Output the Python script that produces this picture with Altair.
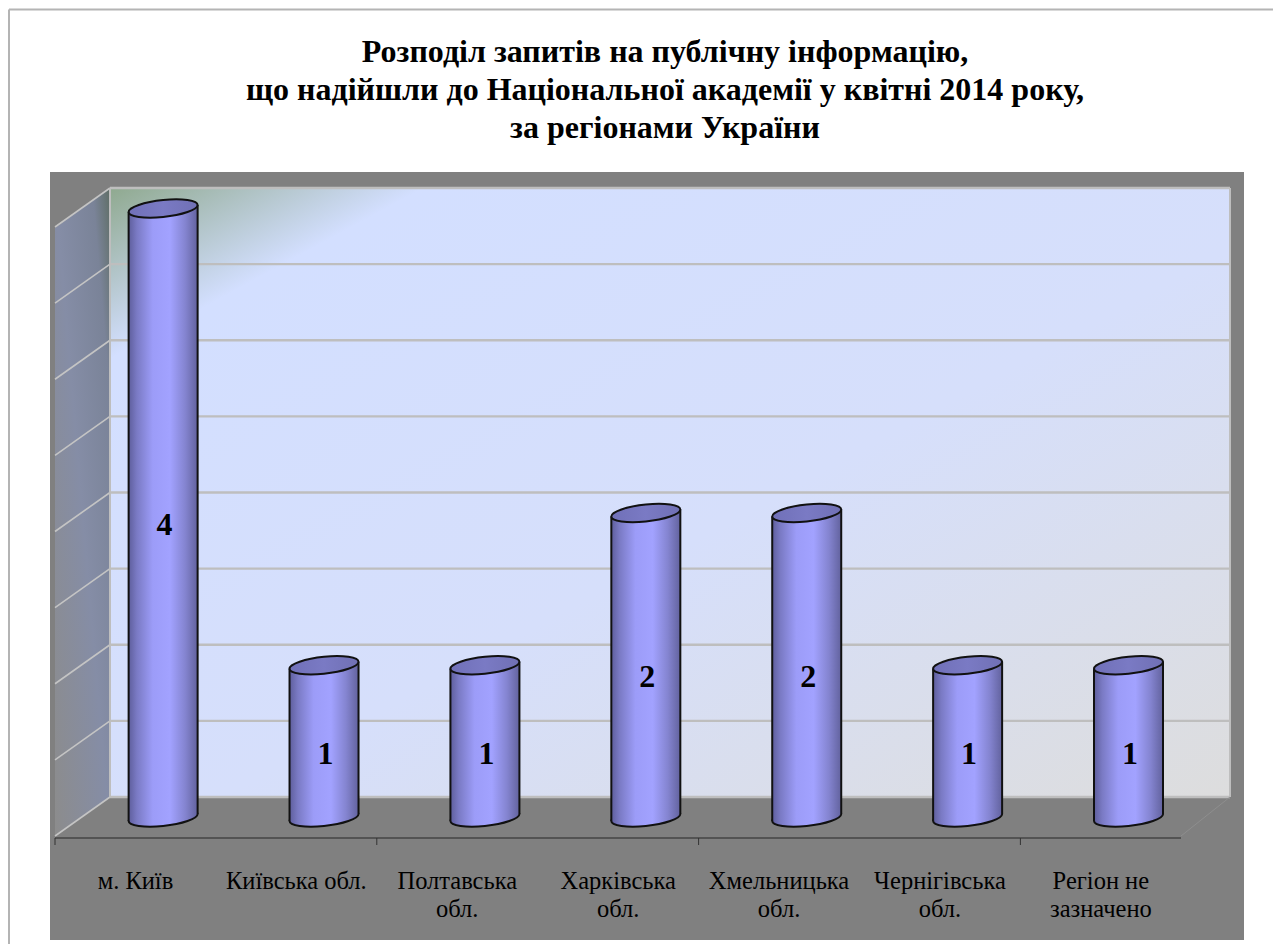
import altair as alt
import pandas as pd

# ---- values ----
categories = ["м. Київ", "Київська обл.", "Полтавська\nобл.", "Харківська\nобл.",
              "Хмельницька\nобл.", "Чернігівська\nобл.", "Регіон не\nзазначено"]
values = [4, 1, 1, 2, 2, 1, 1]
grid_values = [0, 0.5, 1, 1.5, 2, 2.5, 3, 3.5, 4]
tick_slots = [0, 2, 4, 6]
title_lines = ["Розподіл запитів на публічну інформацію,",
               "що надійшли до Національної академії у квітні 2014 року,",
               "за  регіонами України"]

# ---- layout ----
W, H = 1265, 936
PX_X0, PX_CAT = 55.0, 160.9     # page x of axis start, px per category
PX_Y0, PX_VAL = 836.0, 152.25   # page y of value 0 at the front, px per unit
def X(px): return (px - PX_X0) / PX_CAT
def Y(py): return (PX_Y0 - py) / PX_VAL

xs = alt.Scale(domain=[X(8), X(8 + W)], nice=False, zero=False)
ys = alt.Scale(domain=[Y(8 + H), Y(8)], nice=False, zero=False)
ex = alt.X("x:Q", scale=xs, axis=None)
ey = alt.Y("y:Q", scale=ys, axis=None)

SERIF = "Liberation Serif"
BAR_W = 69.0
BAR_SHIFT = 0.172                    # depth shift of the bars, in categories
BASE = Y(817.5)
TILT = 3.45 / PX_VAL


def ellipse_path(b=0.245, s=0.1, k=0.5523):
    def p(x, y):
        return f"{x:.4f},{y - s * x:.4f}"
    return ("M" + p(1, 0) + "C" + p(1, k * b) + " " + p(k, b) + " " + p(0, b)
            + "C" + p(-k, b) + " " + p(-1, k * b) + " " + p(-1, 0)
            + "C" + p(-1, -k * b) + " " + p(-k, -b) + " " + p(0, -b)
            + "C" + p(k, -b) + " " + p(1, -k * b) + " " + p(1, 0) + "Z")


ELL = ellipse_path()
body_grad = {"gradient": "linear", "x1": 0, "y1": 0, "x2": 1, "y2": 0, "stops": [
    {"offset": 0, "color": "#5E5E9C"}, {"offset": 0.12, "color": "#7A7AC4"},
    {"offset": 0.35, "color": "#9C9CF8"}, {"offset": 0.6, "color": "#A2A2FF"},
    {"offset": 0.82, "color": "#8484D0"}, {"offset": 1, "color": "#62629E"}]}
top_grad = {"gradient": "linear", "x1": 0, "y1": 0, "x2": 1, "y2": 0, "stops": [
    {"offset": 0, "color": "#7070B8"}, {"offset": 0.5, "color": "#7A7AC4"},
    {"offset": 1, "color": "#7070B4"}]}
wall_grad = {"gradient": "linear", "x1": 0, "y1": 0, "x2": 1, "y2": 1, "stops": [
    {"offset": 0, "color": "#8FA98F"}, {"offset": 0.14, "color": "#D3DFFF"},
    {"offset": 0.55, "color": "#D6DFFB"}, {"offset": 1, "color": "#DDDDDD"}]}
side_grad = {"gradient": "linear", "x1": 1, "y1": 0, "x2": 0, "y2": 1, "stops": [
    {"offset": 0, "color": "#5F6E66"}, {"offset": 0.16, "color": "#7A8398"},
    {"offset": 0.5, "color": "#858DA6"}, {"offset": 1, "color": "#8C8C8C"}]}

centers = [i + 0.5 + BAR_SHIFT for i in range(len(values))]
half = BAR_W / 2 / PX_CAT
bars = pd.DataFrame({"cat": categories, "v": values, "x": centers,
                     "ytop": [BASE + v for v in values], "ybase": BASE,
                     "lab": [BASE + v / 2 - 0.08 for v in values],
                     "xl": [c + 1.5 / PX_CAT for c in centers]})
body = pd.DataFrame(
    [{"cat": c, "x": x + d * half, "y": BASE + v + d * TILT, "y2": BASE + d * TILT}
     for c, x, v in zip(categories, centers, values) for d in (-1, 1)])
cats = pd.DataFrame({"x": [i + 0.5 for i in range(len(categories))], "y": Y(889), "t": categories})


def rect(x, x2, y, y2, fill):
    return alt.Chart(pd.DataFrame({"x": [X(x)], "x2": [X(x2)], "y": [Y(y)], "y2": [Y(y2)]})).mark_rect(
        fill=fill, opacity=1).encode(ex, alt.X2("x2:Q"), ey, alt.Y2("y2:Q"))


def segs(rows, color, width):
    df = pd.DataFrame([{"x": X(a), "x2": X(c), "y": Y(b), "y2": Y(d)} for a, b, c, d in rows])
    return alt.Chart(df).mark_rule(color=color, strokeWidth=width).encode(
        ex, alt.X2("x2:Q"), ey, alt.Y2("y2:Q"))


panel = rect(50, 1244, 172, 940, "#808080")
back = rect(110, 1230, 188, 797, wall_grad)
left_wall = alt.Chart(pd.DataFrame({"x": [X(55), X(110)], "y": [Y(228), Y(188)], "y2": [Y(835), Y(797)]})).mark_area(
    fill=side_grad, orient="vertical", opacity=1).encode(ex, ey, alt.Y2("y2:Q"))

border = segs([(9, 9.5, 1273, 9.5), (9, 9.5, 9, 944)], "#B4B4B4", 2)
grid_back = alt.Chart(pd.DataFrame({"x": X(110), "x2": X(1230), "y": [Y(797) + g for g in grid_values]})).mark_rule(
    color="#BEBEBE", strokeWidth=2.4).encode(ex, alt.X2("x2:Q"), ey)
grid_left = alt.Chart(pd.DataFrame({"x": X(110), "x2": X(55),
                                    "y": [Y(797) + g for g in grid_values],
                                    "y2": [Y(836) + g for g in grid_values]})).mark_rule(
    color="#C4C4C4", strokeWidth=1.6).encode(ex, alt.X2("x2:Q"), ey, alt.Y2("y2:Q"))
frame = segs([(110, 188, 110, 797), (1230, 188, 1230, 797)], "#BEBEBE", 2)
right_depth = segs([(1230, 797, 1181, 836)], "#8E8E8E", 1)
axis_line = segs([(55, 838, 1181, 838)], "#454545", 1.5)
ticks = alt.Chart(pd.DataFrame({"x": tick_slots, "y": Y(838), "y2": Y(845)})).mark_rule(
    color="#333333", strokeWidth=1).encode(ex, ey, alt.Y2("y2:Q"))

bottom = alt.Chart(bars).mark_point(shape=ELL, size=BAR_W ** 2, fill=body_grad, filled=True, opacity=1,
                                    stroke="#111111", strokeWidth=2).encode(
    ex, alt.Y("ybase:Q", scale=ys, axis=None))
bodies = alt.Chart(body).mark_area(fill=body_grad, orient="vertical", opacity=1).encode(
    ex, ey, alt.Y2("y2:Q"), detail="cat:N")
sides = alt.Chart(body).mark_rule(color="#111111", strokeWidth=2).encode(ex, ey, alt.Y2("y2:Q"))
tops = alt.Chart(bars).mark_point(shape=ELL, size=BAR_W ** 2, fill=top_grad, filled=True, opacity=1,
                                  stroke="#111111", strokeWidth=2).encode(
    ex, alt.Y("ytop:Q", scale=ys, axis=None))
val_labels = alt.Chart(bars).mark_text(font=SERIF, fontSize=32, fontWeight="bold", color="#000000",
                                       align="center", baseline="middle").encode(
    alt.X("xl:Q", scale=xs, axis=None), alt.Y("lab:Q", scale=ys, axis=None), text="v:Q")
cat_labels = alt.Chart(cats).mark_text(font=SERIF, fontSize=24.5, color="#000000", align="center",
                                       baseline="alphabetic", lineBreak="\n", lineHeight=28).encode(
    ex, ey, text="t:N")
title_df = pd.DataFrame({"x": X(665), "y": [Y(62), Y(100), Y(138)], "t": title_lines})
title = alt.Chart(title_df).mark_text(font=SERIF, fontSize=32, fontWeight="bold", color="#000000",
                                      align="center", baseline="alphabetic").encode(ex, ey, text="t:N")

chart = alt.layer(panel, border, back, left_wall, grid_back, grid_left, frame, right_depth, axis_line, ticks,
                  bottom, bodies, sides, tops, val_labels, cat_labels, title).properties(
    width=W, height=H, padding=0, background="#FFFFFF",
    autosize=alt.AutoSizeParams(type="none")
).configure_view(stroke=None)

chart.save("out.html", embed_options={"renderer": "svg", "actions": False})
